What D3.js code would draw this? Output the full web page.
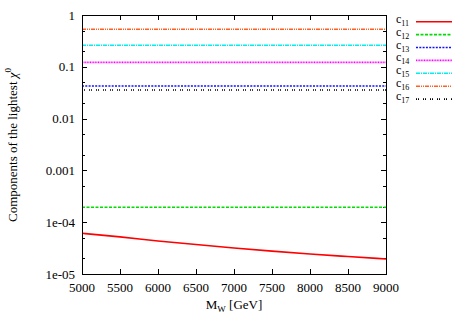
<!DOCTYPE html>
<html>
<head>
<meta charset="utf-8">
<script src="https://cdn.jsdelivr.net/npm/d3@7"></script>
<style>
  body { margin: 0; background: #fff; }
  svg { font-family: "Liberation Serif", "DejaVu Serif", serif; }
</style>
</head>
<body>
<div id="chart"></div>
<script>
// data
const mw = [5000, 5500, 6000, 6500, 7000, 7500, 8000, 8500, 9000];
const c11 = [6.1e-5, 5.2e-5, 4.35e-5, 3.7e-5, 3.18e-5, 2.76e-5, 2.43e-5, 2.17e-5, 1.95e-5];
const c12 = [1.94e-4, 1.94e-4, 1.94e-4, 1.94e-4, 1.94e-4, 1.95e-4, 1.95e-4, 1.95e-4, 1.95e-4];
const c13 = [0.0427, 0.0427, 0.0427, 0.0427, 0.0427, 0.0427, 0.0427, 0.0427, 0.0427];
const c14 = [0.122, 0.122, 0.122, 0.122, 0.122, 0.122, 0.122, 0.122, 0.122];
const c15 = [0.26, 0.26, 0.26, 0.26, 0.26, 0.26, 0.26, 0.26, 0.26];
const c16 = [0.53, 0.53, 0.53, 0.53, 0.53, 0.53, 0.53, 0.53, 0.53];
const c17 = [0.0356, 0.0356, 0.0356, 0.0356, 0.0356, 0.0356, 0.0356, 0.0356, 0.0356];

const xTicks = [5000, 5500, 6000, 6500, 7000, 7500, 8000, 8500, 9000];
const yTicks = [1, 0.1, 0.01, 0.001, 1e-4, 1e-5];
const yTickLabels = ["1", "0.1", "0.01", "0.001", "1e-04", "1e-05"];
const yMinor = [5e-1, 2e-1, 5e-2, 2e-2, 5e-3, 2e-3, 5e-4, 2e-4, 5e-5, 2e-5];

const series = [
  { sub: "11", values: c11, color: "#ff0000", dash: null },
  { sub: "12", values: c12, color: "#00dd00", dash: "3,1.5" },
  { sub: "13", values: c13, color: "#1010ff", dash: "2,1.3" },
  { sub: "14", values: c14, color: "#ff00ff", dash: "1,0.6" },
  { sub: "15", values: c15, color: "#00eeee", dash: "4,1,1,1" },
  { sub: "16", values: c16, color: "#ff6020", dash: "4,1,1,1,1,1" },
  { sub: "17", values: c17, color: "#000000", dash: "1,1,1,4" }
];

const width = 467, height = 327;
const pLeft = 82, pTop = 15, pRight = 386, pBottom = 274;

const svg = d3.select("#chart").append("svg")
  .attr("width", width)
  .attr("height", height);

const x = d3.scaleLinear().domain([5000, 9000]).range([pLeft, pRight]);
const y = d3.scaleLog().domain([1e-5, 1]).range([pBottom, pTop]);

// ticks on all four sides
const tickG = svg.append("g").attr("stroke", "#000").attr("stroke-width", 1);
xTicks.forEach(t => {
  const px = Math.round(x(t)) + 0.5;
  tickG.append("line").attr("x1", px).attr("x2", px).attr("y1", pBottom).attr("y2", pBottom - 5);
  tickG.append("line").attr("x1", px).attr("x2", px).attr("y1", pTop).attr("y2", pTop + 5);
});
yTicks.forEach(t => {
  const py = Math.round(y(t)) + 0.5;
  tickG.append("line").attr("x1", pLeft).attr("x2", pLeft + 5).attr("y1", py).attr("y2", py);
  tickG.append("line").attr("x1", pRight).attr("x2", pRight - 5).attr("y1", py).attr("y2", py);
});
yMinor.forEach(t => {
  const py = Math.round(y(t)) + 0.5;
  tickG.append("line").attr("x1", pLeft).attr("x2", pLeft + 3).attr("y1", py).attr("y2", py);
  tickG.append("line").attr("x1", pRight).attr("x2", pRight - 3).attr("y1", py).attr("y2", py);
});

// tick labels
svg.append("g").selectAll("text").data(xTicks).enter().append("text")
  .attr("x", d => x(d))
  .attr("y", pBottom + 18)
  .attr("text-anchor", "middle")
  .attr("font-size", 13)
  .text(d => d);

svg.append("g").selectAll("text").data(yTicks).enter().append("text")
  .attr("x", pLeft - 7)
  .attr("y", d => y(d) + 4.5)
  .attr("text-anchor", "end")
  .attr("font-size", 13)
  .text((d, i) => yTickLabels[i]);

// lines
const line = d3.line()
  .curve(d3.curveMonotoneX)
  .x((d, i) => x(mw[i]))
  .y(d => y(d));

series.forEach(s => {
  svg.append("path")
    .datum(s.values)
    .attr("d", line)
    .attr("fill", "none")
    .attr("stroke", s.color)
    .attr("stroke-width", 1.6)
    .attr("stroke-dasharray", s.dash);
});

// frame
svg.append("rect")
  .attr("x", pLeft + 0.5).attr("y", pTop + 0.5)
  .attr("width", pRight - pLeft).attr("height", pBottom - pTop)
  .attr("fill", "none").attr("stroke", "#000").attr("stroke-width", 1);

// axis titles
const xt = svg.append("text")
  .attr("x", 234).attr("y", 309)
  .attr("text-anchor", "middle")
  .attr("font-size", 13);
xt.append("tspan").text("M");
xt.append("tspan").attr("font-size", 9).attr("dy", 3).text("W");
xt.append("tspan").attr("dy", -3).text(" [GeV]");

const yt = svg.append("text")
  .attr("transform", "translate(17,145) rotate(-90)")
  .attr("text-anchor", "middle")
  .attr("font-size", 13);
yt.append("tspan").text("Components of the lightest ");
yt.append("tspan").attr("font-style", "italic").text("\u03C7");
yt.append("tspan").attr("font-size", 9).attr("dy", -6).text("0");

// legend
const leg = svg.append("g");
series.forEach((s, i) => {
  const ly = 21.7 + i * 12.9;
  const t = leg.append("text")
    .attr("x", 396).attr("y", ly + 1)
    .attr("font-size", 12);
  t.append("tspan").text("c");
  t.append("tspan").attr("font-size", 8).attr("dy", 3).text(s.sub);
  leg.append("line")
    .attr("x1", 416).attr("x2", 452)
    .attr("y1", ly).attr("y2", ly)
    .attr("stroke", s.color)
    .attr("stroke-width", 1.6)
    .attr("stroke-dasharray", s.dash);
});
</script>
</body>
</html>
